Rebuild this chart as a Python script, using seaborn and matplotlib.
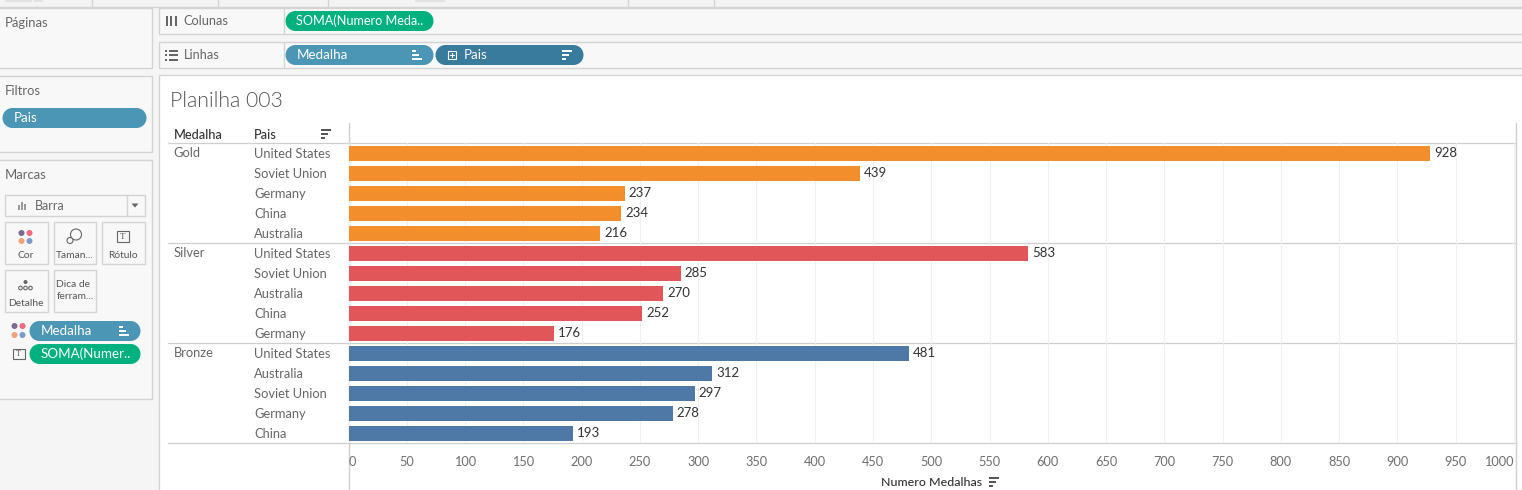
import matplotlib
matplotlib.use("Agg")
import matplotlib.pyplot as plt
from matplotlib.patches import Rectangle, Circle
import pandas as pd
import seaborn as sns

medals = ["Gold", "Silver", "Bronze"]
gold_countries = ["United States", "Soviet Union", "Germany", "China", "Australia"]
gold_values = [928, 439, 237, 234, 216]
silver_countries = ["United States", "Soviet Union", "Australia", "China", "Germany"]
silver_values = [583, 285, 270, 252, 176]
bronze_countries = ["United States", "Australia", "Soviet Union", "Germany", "China"]
bronze_values = [481, 312, 297, 278, 193]
medal_colors = ["#F28E2B", "#E15759", "#4E79A7"]
x_ticks = list(range(0, 1001, 50))

W, H = 1522, 490
sns.set_theme(style="white")
plt.rcParams["font.family"] = ["Lato", "DejaVu Sans"]
fig = plt.figure(figsize=(W / 100, H / 100), dpi=100, facecolor="#F5F5F5")

# ---- interface chrome, in pixel coordinates
ui = fig.add_axes([0, 0, 1, 1], zorder=0)
ui.set_xlim(0.5, W + 0.5)
ui.set_ylim(H, 0)
ui.axis("off")
BORDER = "#D4D4D4"
TXT = "#666666"


def panel(x0, y0, x1, y1, fc="#F8F8F8", ec=BORDER):
    ui.add_patch(Rectangle((x0, y0), x1 - x0, y1 - y0, fc=fc, ec=ec, lw=1))


def label(x, y, s, size=9.3, color=TXT, **kw):
    ui.text(x, y, s, fontsize=size, color=color, va="center", **kw)


def pill(x0, y0, x1, y1, fc, s, tx=None, size=9.2):
    r = (y1 - y0) / 2
    ui.add_patch(Rectangle((x0 + r, y0), x1 - x0 - 2 * r, y1 - y0, fc=fc, ec="none"))
    ui.add_patch(Circle((x0 + r, y0 + r), r, fc=fc, ec="none"))
    ui.add_patch(Circle((x1 - r, y0 + r), r, fc=fc, ec="none"))
    label(tx if tx else x0 + 11, (y0 + y1) / 2, s, size=size, color="white")


def sort_icon(x, y, color="white", ascending=False, w=10):
    widths = [0.4, 0.7, 1.0] if ascending else [1.0, 0.7, 0.4]
    for i, f in enumerate(widths):
        ui.add_patch(Rectangle((x, y + i * 4), w * f, 2, fc=color, ec="none"))


# top strip
ui.add_patch(Rectangle((0, 0), W + 1, 7, fc="#F3F3F3", ec="none"))
ui.plot([0, W + 1], [7, 7], color=BORDER, lw=1)
for x in [92, 218, 328, 628, 714]:
    ui.plot([x, x], [0, 6], color=BORDER, lw=1)
for x0, x1 in [(5, 32), (34, 43), (415, 445)]:
    ui.add_patch(Rectangle((x0, 0), x1 - x0, 2, fc="#E2E2E2", ec="none"))

# left panels
panel(-2, 8, 152, 68)
panel(-2, 76, 152, 152)
panel(-2, 160, 152, 399)
label(5, 23, "Páginas", size=9.4)
label(5, 91, "Filtros", size=9.4)
label(5, 175, "Marcas", size=9.4)
pill(3, 108, 147, 128, "#4A96B4", "Pais", size=9.6)

# mark type selector
panel(5, 195, 145, 216, fc="#F8F8F8")
ui.plot([127, 127], [195, 216], color=BORDER, lw=1)
for i, h in enumerate([5, 8, 6]):
    ui.add_patch(Rectangle((18 + i * 3, 210 - h), 2, h, fc="#999999", ec="none"))
label(35, 206, "Barra", size=9)
ui.fill([132, 139, 135.5], [203.5, 203.5, 207.5], color="#666666", lw=0)

# mark cards
for x0, x1, y0, y1 in [(5, 48, 222, 264), (54, 96, 222, 264), (102, 145, 222, 264),
                       (5, 48, 270, 312), (54, 96, 270, 312)]:
    panel(x0, y0, x1, y1, fc="#F8F8F8")
for (x, y), c in zip([(22, 233), (30, 233), (22, 241), (30, 241)],
                     ["#7B6A96", "#EE6A7C", "#F2A477", "#7C9CCB"]):
    ui.add_patch(Circle((x, y), 3, fc=c, ec="none"))
ui.add_patch(Circle((76.5, 234.5), 5.5, fc="none", ec="#666666", lw=0.8))
ui.add_patch(Circle((70.5, 240.5), 3, fc="#F8F8F8", ec="#666666", lw=0.8))
ui.add_patch(Rectangle((117, 231), 12, 11, fc="none", ec="#666666", lw=0.8))
ui.text(123, 236.5, "T", fontsize=6.5, color="#555555", ha="center", va="center", family="Liberation Serif")
ui.add_patch(Circle((26, 282), 2, fc="#666666", ec="none"))
for x in [21, 26, 31]:
    ui.add_patch(Circle((x, 288), 1.8, fc="none", ec="#666666", lw=0.8))
for x, y, s in [(26, 255, "Cor"), (75, 255, "Taman..."), (123, 255, "Rótulo"), (26, 303, "Detalhe")]:
    label(x, y, s, size=7.4, ha="center", color="#555555")
label(57, 284, "Dica de", size=7.4, color="#555555")
label(57, 296, "ferram...", size=7.4, color="#555555")
for (x, y), c in zip([(15, 326), (23, 326), (15, 335), (23, 335)],
                     ["#7B6A96", "#EE6A7C", "#F2A477", "#7C9CCB"]):
    ui.add_patch(Circle((x, y), 3, fc=c, ec="none"))
ui.add_patch(Rectangle((13, 349), 12, 10, fc="none", ec="#666666", lw=0.8))
ui.text(19, 354, "T", fontsize=6, color="#555555", ha="center", va="center", family="Liberation Serif")
pill(30, 321, 141, 341, "#4A96B4", "Medalha", size=9.6)
sort_icon(119, 326, ascending=True)
pill(30, 344, 141, 364, "#00B180", "SOMA(Numer..", size=9.6)

# shelves
panel(159, 8, W + 2, 34)
panel(159, 42, W + 2, 68)
ui.plot([284, 284], [8, 34], color=BORDER, lw=1)
ui.plot([284, 284], [42, 68], color=BORDER, lw=1)
for x in [166, 170.5, 175]:
    ui.add_patch(Rectangle((x, 16), 2, 10, fc="#666666", ec="none"))
for y in [50, 54.5, 59]:
    ui.add_patch(Rectangle((165, y), 2, 2, fc="#666666", ec="none"))
    ui.add_patch(Rectangle((169, y), 9, 2, fc="#666666", ec="none"))
label(184, 21, "Colunas", size=9.2)
label(184, 55, "Linhas", size=9.2)
pill(286, 11, 434, 31, "#00B180", "SOMA(Numero Meda..", size=9.1)
pill(286, 45, 434, 65, "#4A96B4", "Medalha", size=9.6)
sort_icon(412, 50, ascending=True)
pill(436, 45, 584, 65, "#387B9C", "Pais", tx=464, size=9.6)
ui.add_patch(Rectangle((448, 51), 8, 8, fc="none", ec="white", lw=0.8))
ui.plot([450, 454], [55, 55], color="white", lw=0.8)
ui.plot([452, 452], [53, 57], color="white", lw=0.8)
sort_icon(562, 50)

# main sheet
ui.add_patch(Rectangle((159, 75), W - 159 + 3, H - 75 + 3, fc="white", ec=BORDER, lw=1))
ui.text(170, 101, "Planilha 003", fontsize=15.3, color="#555555", va="center", fontweight=300)
label(174, 135, "Medalha", size=9.2, color="#333333", fontweight="medium")
label(254, 135, "Pais", size=9.2, color="#333333", fontweight="medium")
sort_icon(321, 129, color="#555555")
for y in [143, 243, 343, 443]:
    ui.plot([168, 1516], [y, y], color="#CFCFCF", lw=0.9, zorder=5)
ui.plot([349, 349], [123, H + 1], color="#CFCFCF", lw=1, zorder=5)
ui.plot([1516, 1516], [123, H + 1], color="#CFCFCF", lw=1, zorder=5)
label(932, 482, "Numero Medalhas", size=8.9, color="#333333", ha="center", fontweight="medium")
sort_icon(989, 477, color="#555555")

# ---- the chart itself
df = pd.DataFrame({
    "Medalha": [m for m in medals for _ in range(5)],
    "Pais": gold_countries + silver_countries + bronze_countries,
    "Numero": gold_values + silver_values + bronze_values,
})
df["row"] = range(len(df))
df["rowkey"] = df["row"].astype(str)

ax = fig.add_axes([348.5 / W, 1 - 443 / H, (1516 - 348.5) / W, 300 / H], zorder=2)
ax.patch.set_alpha(0)
sns.barplot(data=df, x="Numero", y="rowkey", hue="Medalha", hue_order=medals,
            palette=medal_colors, dodge=False, width=0.75, saturation=1,
            legend=False, linewidth=0, ax=ax)
px_per_unit = 1.1655
ax.set_xlim(0, (1516 - 348.5) / px_per_unit)
ax.set_ylim(14.5, -0.5)
for s in ax.spines.values():
    s.set_visible(False)
ax.set_xlabel("")
ax.set_ylabel("")
ax.set_axisbelow(True)
ax.grid(axis="x", color="#F0F0F0", lw=0.75)
ax.set_xticks(x_ticks, [str(t) for t in x_ticks])
ax.tick_params(axis="x", length=0, pad=9, labelsize=9.2, labelcolor="#6E6E6E")
xt = ax.get_xticklabels()
xt[0].set_ha("left")
xt[0].set_x(2.5)
xt[-1].set_ha("right")
ax.set_yticks(df["row"].tolist(), df["Pais"].tolist())
ax.tick_params(axis="y", length=0, pad=94.5 * 0.72, labelsize=9.3, labelcolor=TXT)
for t in ax.get_yticklabels():
    t.set_ha("left")
for c in ax.containers:
    ax.bar_label(c, fmt="%d", padding=2.8, fontsize=9.5, color="#333333")
for i, m in enumerate(medals):
    ui.text(174, 153 + 100 * i, m, fontsize=9.3, color=TXT, va="center")

fig.savefig("out.png", dpi=100, facecolor=fig.get_facecolor())
